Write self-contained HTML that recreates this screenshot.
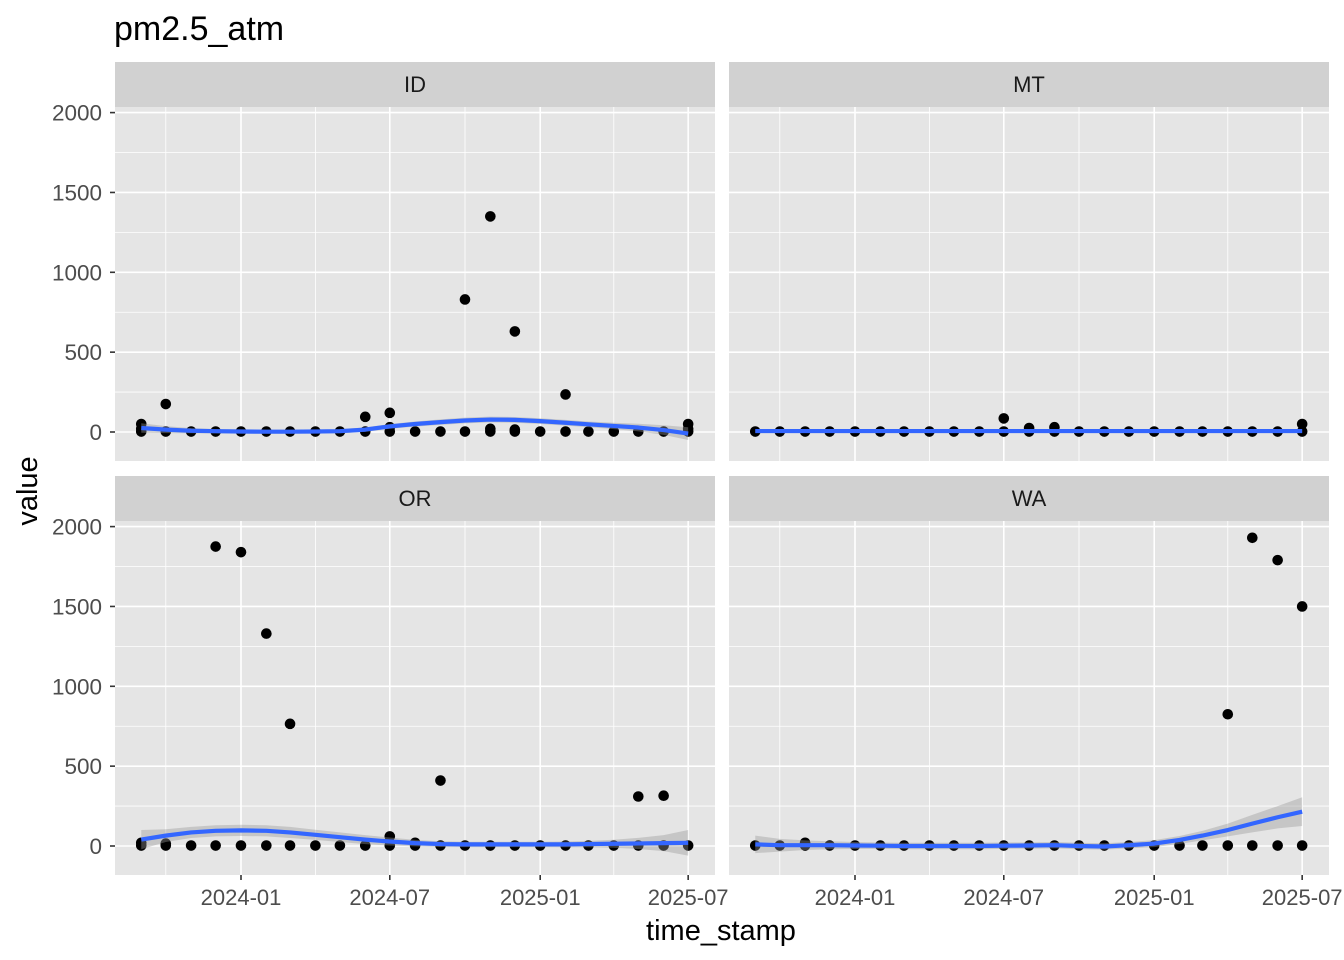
<!DOCTYPE html>
<html><head><meta charset="utf-8"><style>
html,body{margin:0;padding:0;background:#fff;}
svg{display:block;font-family:"Liberation Sans",Arial,sans-serif;}
</style></head><body>
<svg id="s" width="1344" height="960" xmlns="http://www.w3.org/2000/svg"></svg>
<script>
const S=document.getElementById('s');let h='';
h+='<text x="114" y="40" font-size="34" fill="#000">pm2.5_atm</text>';
const ppd=0.8175;const base=Date.UTC(2024,0,1);
function dx(y,m){return (Date.UTC(y,m,1)-base)/86400000*ppd;}
const months=[];for(let i=0;i<23;i++){const m=8+i;months.push([2023+Math.floor(m/12),m%12]);}
const panels=[
 {n:'ID',x:115,y:107,cur:[25,15,8,5,3,2,2,3,5,15,35,50,62,72,78,76,68,58,48,38,28,12,-10],bw:[30,22,16,14,13,12,12,12,13,14,15,16,17,18,18,18,18,18,18,20,24,30,40],
  out:[[0,50],[0,20],[1,175],[9,95],[10,120],[13,830],[14,1350],[15,630],[17,235],[22,50],[22,20],[10,30],[14,20],[15,15]]},
 {n:'MT',x:729,y:107,cur:Array(23).fill(6),bw:Array(23).fill(8),out:[[10,85],[22,50],[11,25],[12,30]]},
 {n:'OR',x:115,y:521,cur:[40,65,85,95,98,95,85,70,55,40,28,18,12,10,10,10,10,10,12,14,16,18,20],bw:[60,40,35,35,35,35,35,32,30,28,25,20,18,17,17,17,17,18,20,25,35,50,80],
  out:[[3,1875],[4,1840],[5,1330],[6,765],[12,410],[20,310],[21,315],[10,60],[0,20],[1,15],[11,20]]},
 {n:'WA',x:729,y:521,cur:[10,5,5,5,3,2,0,0,0,0,2,3,5,0,-3,5,15,38,65,100,140,180,215],bw:[55,40,30,25,22,20,20,20,20,20,20,20,20,20,20,20,22,25,30,40,55,70,90],
  out:[[19,825],[20,1930],[21,1790],[22,1500],[2,20]]}
];
const W=600,H=354,z0=325;const sc=79.85/500;
for(const p of panels){
 const Y=v=>p.y+z0-v*sc, X0=p.x+126, X=i=>X0+dx(months[i][0],months[i][1]);
 h+=`<rect x="${p.x}" y="${p.y-45}" width="${W}" height="45" fill="#D1D1D1"/>`;
 h+=`<text x="${p.x+W/2}" y="${p.y-15}" font-size="22" fill="#1A1A1A" text-anchor="middle">${p.n}</text>`;
 h+=`<rect x="${p.x}" y="${p.y}" width="${W}" height="${H}" fill="#E5E5E5"/>`;
 for(let v=-250;v<=2250;v+=500){const y=Y(v);if(y>p.y&&y<p.y+H)h+=`<line x1="${p.x}" x2="${p.x+W}" y1="${y}" y2="${y}" stroke="#fff" stroke-width="0.8"/>`;}
 for(const [yy,mm] of [[2023,9],[2024,3],[2024,9],[2025,3]]){const x=X0+dx(yy,mm);h+=`<line x1="${x}" x2="${x}" y1="${p.y}" y2="${p.y+H}" stroke="#fff" stroke-width="0.8"/>`;}
 for(let v=0;v<=2000;v+=500){const y=Y(v);h+=`<line x1="${p.x}" x2="${p.x+W}" y1="${y}" y2="${y}" stroke="#fff" stroke-width="1.6"/>`;
  if(p.x==115){h+=`<line x1="${p.x-5}" x2="${p.x}" y1="${y}" y2="${y}" stroke="#333" stroke-width="1.6"/><text x="${p.x-13}" y="${y+8}" font-size="22.5" fill="#4D4D4D" text-anchor="end">${v}</text>`;}}
 const labs=[[2024,0,'2024-01'],[2024,6,'2024-07'],[2025,0,'2025-01'],[2025,6,'2025-07']];
 for(const [yy,mm,l] of labs){const x=X0+dx(yy,mm);h+=`<line x1="${x}" x2="${x}" y1="${p.y}" y2="${p.y+H}" stroke="#fff" stroke-width="1.6"/>`;
  if(p.y>400)h+=`<line x1="${x}" x2="${x}" y1="${p.y+H}" y2="${p.y+H+5}" stroke="#333" stroke-width="1.6"/><text x="${x}" y="${p.y+H+30}" font-size="22" fill="#4D4D4D" text-anchor="middle">${l}</text>`;}
 for(let i=0;i<23;i++)h+=`<circle cx="${X(i)}" cy="${Y(3)}" r="5.3" fill="#000"/>`;
 for(const [i,v] of p.out)h+=`<circle cx="${X(i)}" cy="${Y(v)}" r="5.3" fill="#000"/>`;
 let up='',lo='';
 for(let i=0;i<23;i++){up+=`${X(i)},${Y(p.cur[i]+p.bw[i])} `;}
 for(let i=22;i>=0;i--){lo+=`${X(i)},${Y(p.cur[i]-p.bw[i])} `;}
 h+=`<polygon points="${up}${lo}" fill="#999" fill-opacity="0.4"/>`;
 let ln='';for(let i=0;i<23;i++)ln+=`${X(i)},${Y(p.cur[i])} `;
 h+=`<polyline points="${ln}" fill="none" stroke="#3366FF" stroke-width="4.2" stroke-linejoin="round"/>`;
}
h+='<text x="721" y="940" font-size="29" fill="#000" text-anchor="middle">time_stamp</text>';
h+='<text transform="translate(37,491) rotate(-90)" font-size="29" fill="#000" text-anchor="middle">value</text>';
S.innerHTML=h;
</script>
</body></html>
